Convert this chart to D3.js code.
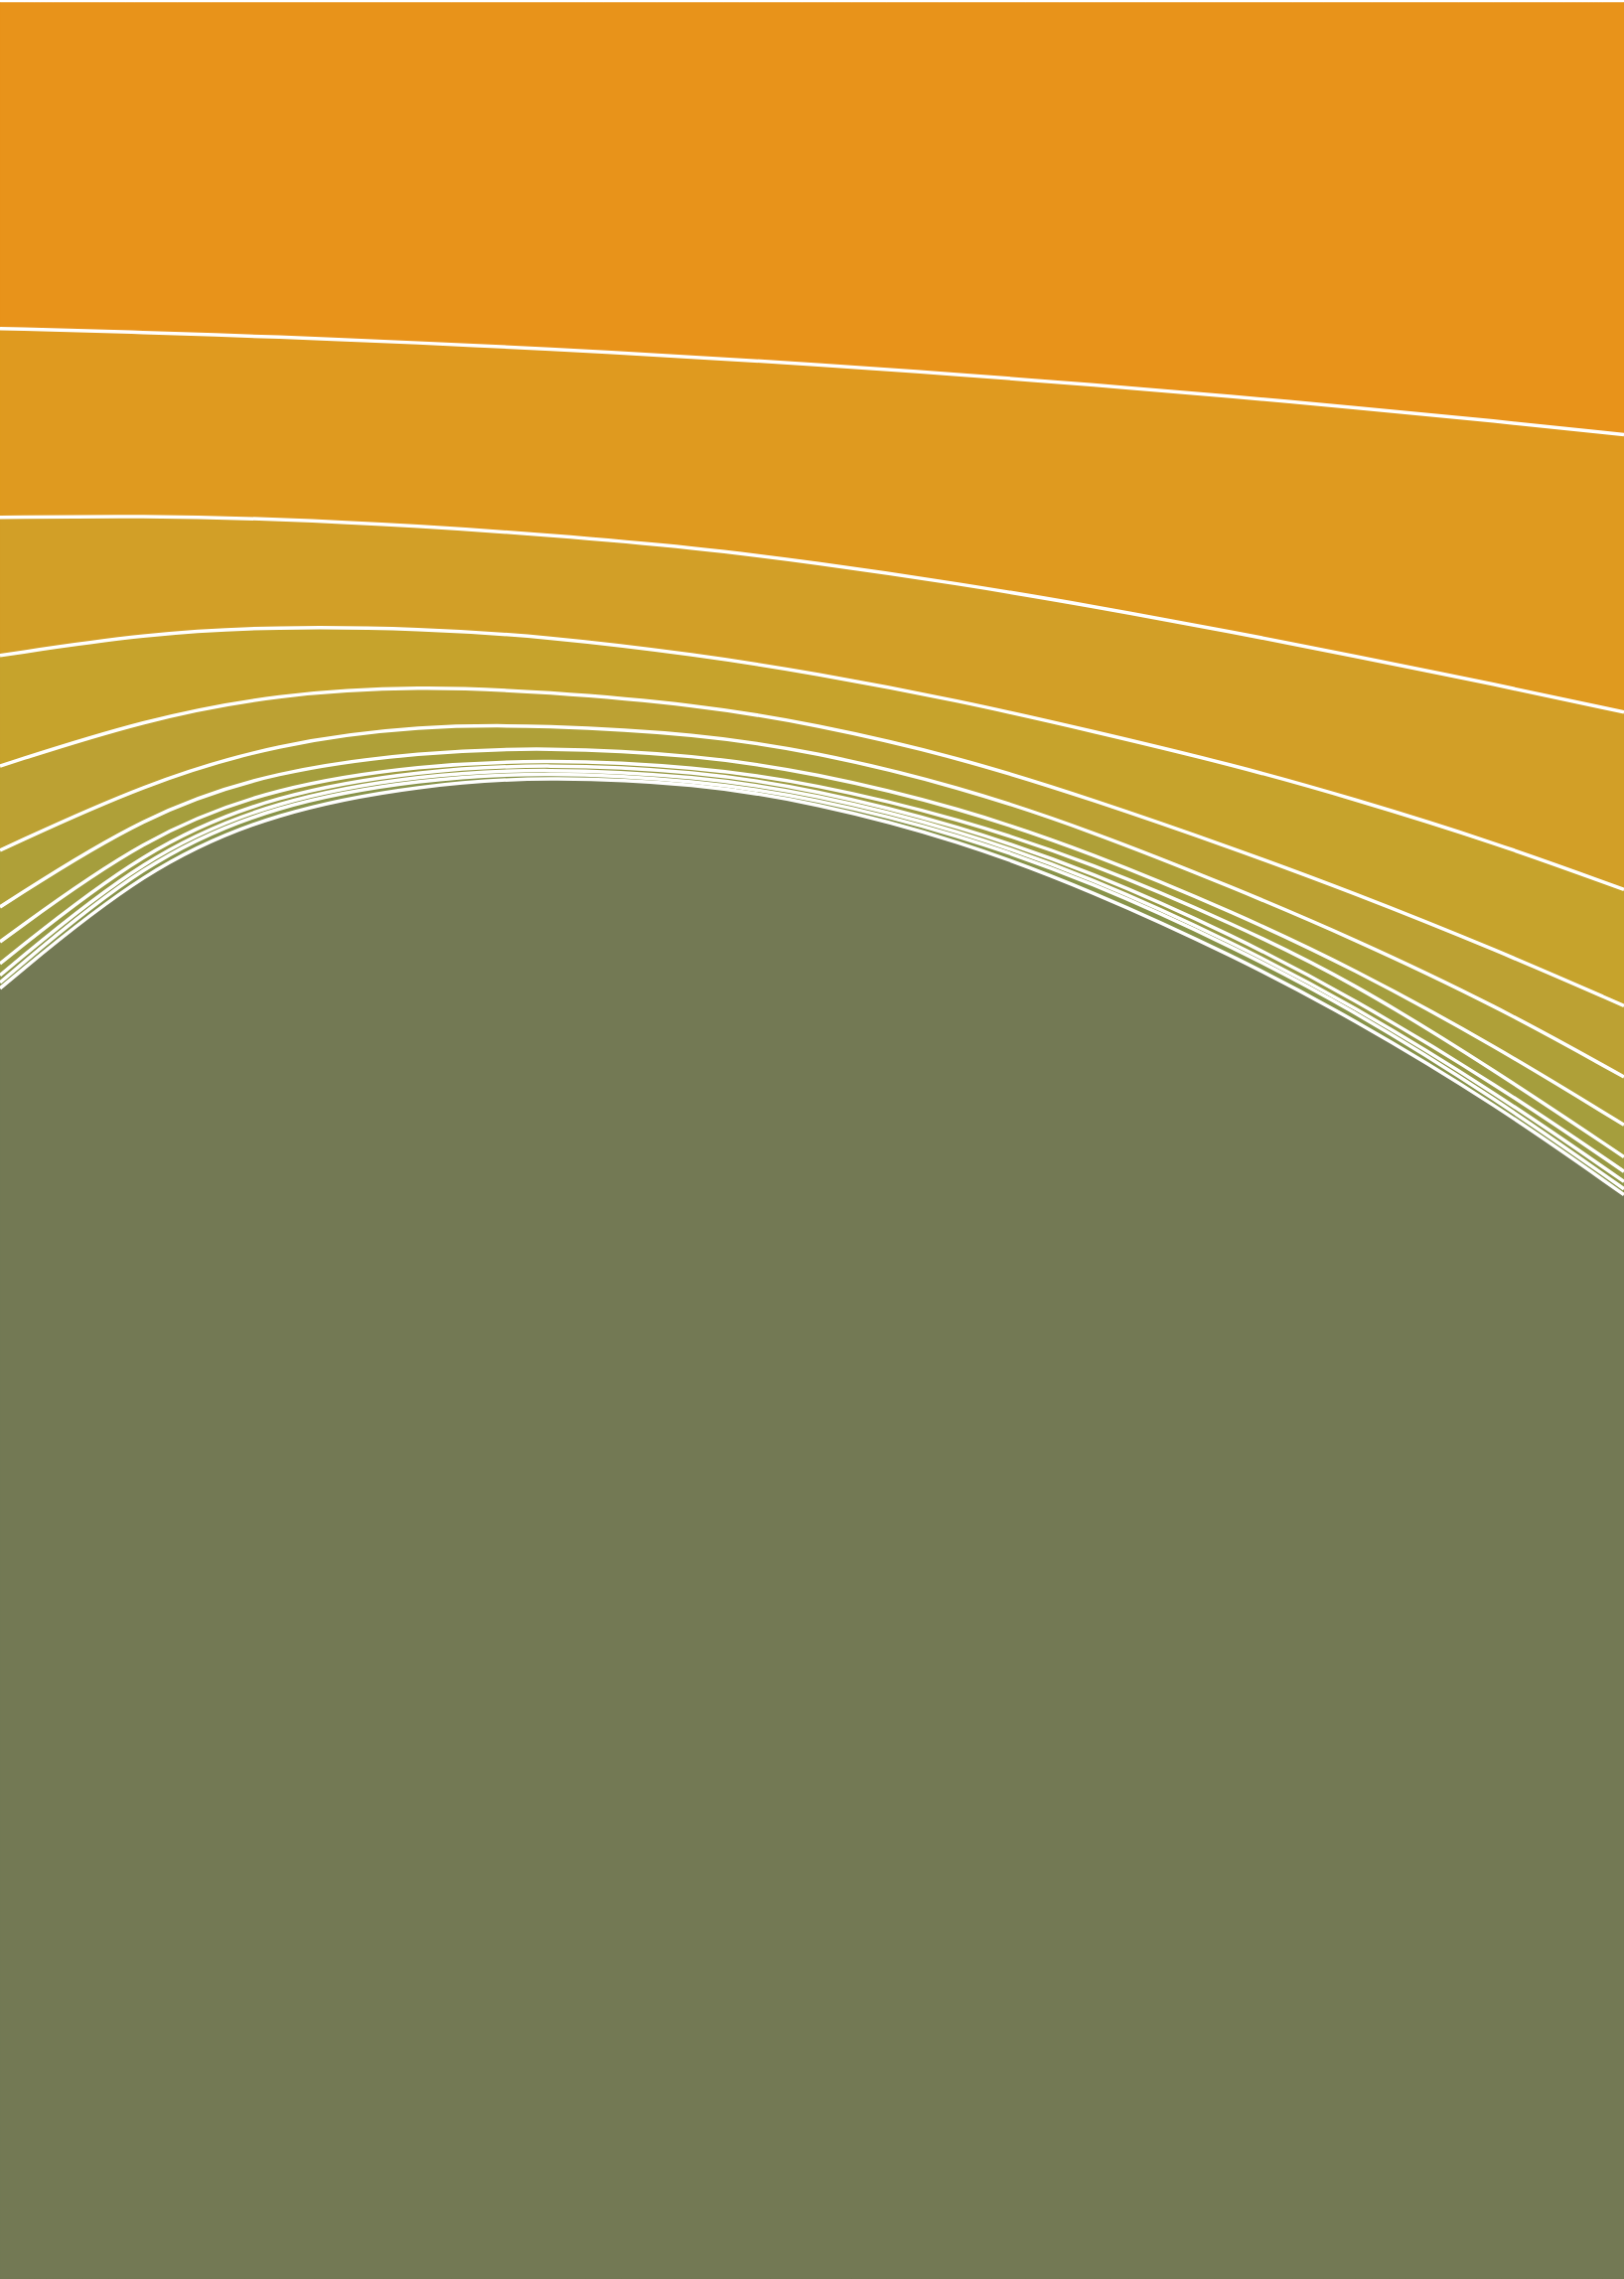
<html>
<head>
<script src="https://cdn.jsdelivr.net/npm/d3@7"></script>
<style>
  body {margin: 0; background: #fff;}
  svg {display: block;}
</style>
</head>
<body>
<script>
// horizontal positions of the samples (chart units, 0..1118 across)
var stops = [0, 100, 191, 290, 376, 480, 560, 660, 752, 850, 930, 1030, 1118]

// depth of each boundary at every stop (chart units, 0..1568 down), top to bottom
var edge1  = [226, 228.7, 231.8, 235.9, 240, 245.8, 250.7, 257.7, 264.7, 272.9, 280.1, 289.8, 299]
var edge2  = [356, 355, 357, 362, 368, 377, 387, 401.5, 417, 435, 451, 471, 490]
var edge3  = [451, 436, 431, 432.5, 438, 450.5, 463, 482, 503, 526.5, 549, 580, 612]
var edge4  = [527, 495, 477.5, 472, 476, 485, 498, 521, 550, 584, 613.5, 653.5, 692]
var edge5  = [585, 539, 511.5, 499, 499, 505, 517, 541, 572, 611, 645, 692, 741]
var edge6  = [624, 560, 530, 517.5, 514, 519.5, 531.5, 555.5, 587, 628, 665.5, 720, 774]
var edge7  = [648, 575, 541, 526.5, 522.5, 527.5, 539, 563, 594, 636, 675, 737, 796]
var edge8  = [663, 583, 546, 530, 525.5, 530.5, 543, 568, 600, 644, 686, 746, 806]
var edge9  = [671, 588, 550, 533, 528.5, 534, 546, 571, 604, 649, 691, 752, 813]
var edge10 = [676, 591.5, 553, 536, 531, 537, 549, 574, 607, 652, 694, 756, 818]
var edge11 = [680, 597, 558, 540, 534, 539, 552, 578, 613, 658, 700, 760, 822]

var colors = ["#e8931a", "#df9a1f", "#d29f27", "#c6a32c", "#bca133", "#afa038",
              "#a59e3d", "#9e9b41", "#979944", "#8f9647", "#88934a", "#737954"]

var edges = [edge1, edge2, edge3, edge4, edge5, edge6, edge7, edge8, edge9, edge10, edge11]

var width = 1635, height = 2294
var topY = 2.5

var svg = d3.select("body").append("svg")
    .attr("width", width)
    .attr("height", height)

var x = d3.scaleLinear().domain([0, 1118]).range([0, width])
var y = d3.scaleLinear().domain([0, 1568]).range([0, height])

// bands: top of band i = edge i-1 (or the top), bottom = edge i (or the bottom)
var bands = colors.map(function(c, i) {
    return stops.map(function(s, j) {
        return {
            x: s,
            y0: i == 0 ? null : edges[i - 1][j],
            y1: i == edges.length ? 1568 : edges[i][j]
        }
    })
})

var area = d3.area()
    .curve(d3.curveBasis)
    .x(function(d) { return x(d.x) })
    .y0(function(d) { return d.y0 == null ? topY : y(d.y0) })
    .y1(function(d) { return y(d.y1) })

svg.append("g")
    .selectAll("path")
    .data(bands)
    .enter()
    .append("path")
    .attr("d", area)
    .style("fill", function(d, i) { return colors[i] })
    .style("stroke", function(d, i) { return colors[i] })
    .style("stroke-width", 0.5)

var line = d3.line()
    .curve(d3.curveBasis)
    .x(function(d) { return x(d.x) })
    .y(function(d) { return y(d.v) })

svg.append("g")
    .selectAll("path")
    .data(edges)
    .enter()
    .append("path")
    .attr("d", function(e) {
        return line(stops.map(function(s, j) { return {x: s, v: e[j]} }))
    })
    .style("fill", "none")
    .style("stroke", "#fff")
    .style("stroke-width", 3.5)
</script>
</body>
</html>
